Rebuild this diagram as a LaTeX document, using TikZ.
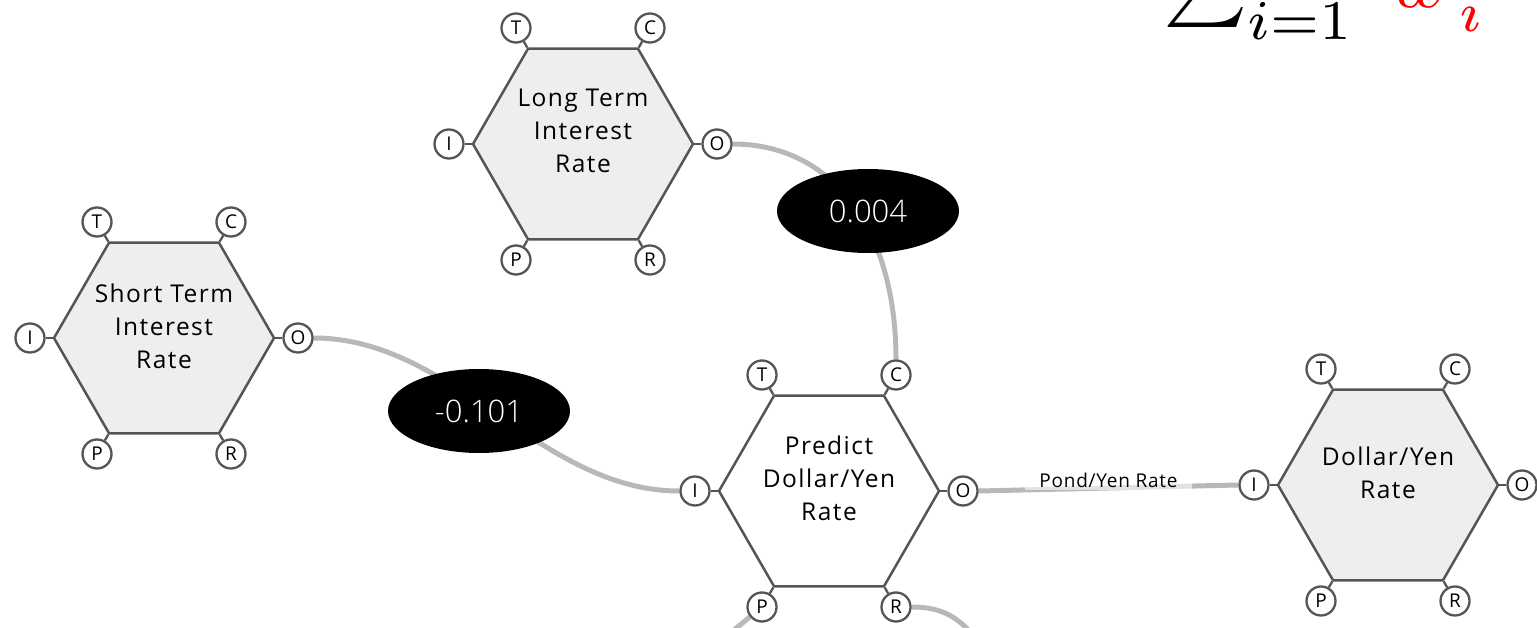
\documentclass[tikz,border=0pt]{standalone}
\usepackage{fontspec}
\usepackage{graphicx}
\setmainfont{Open Sans}
\IfFontExistsTF{Open Sans Light}{\newfontfamily\wfont{Open Sans Light}}{\newfontfamily\wfont{Open Sans}}
\usetikzlibrary{shapes.geometric,calc,backgrounds}
\definecolor{edgec}{HTML}{555555}
\definecolor{hexfill}{HTML}{EEEEEE}
\definecolor{wirec}{HTML}{B8B8B8}
\begin{document}
\begin{tikzpicture}[x=1pt,y=-1pt,
  hexbox/.style={regular polygon, regular polygon sides=6, minimum size=220pt, inner sep=0pt,
    draw=edgec, line width=2.5pt, fill=hexfill},
  hextext/.style={align=center, font=\fontsize{24.5}{33}\selectfont\addfontfeature{LetterSpace=6}, inner sep=0pt},
  port/.style={circle, minimum size=29pt, inner sep=0pt, draw=edgec, line width=2.3pt, fill=white,
    font=\fontsize{19}{19}\selectfont},
  tick/.style={draw=edgec, line width=2.3pt},
  wire/.style={draw=wirec, line width=5pt},
  weight/.style={ellipse, fill=black, text=white, minimum width=182pt, minimum height=84pt,
    inner sep=0pt, font=\wfont\fontsize{31}{31}\selectfont},
  wirelabel/.style={fill=white, fill opacity=0.6, text opacity=1, inner xsep=14pt, inner ysep=3pt,
    font=\fontsize{19}{19}\selectfont\addfontfeature{LetterSpace=4}}]
\useasboundingbox (0,0) rectangle (1537,628);
\clip (0,0) rectangle (1537,628);

% formula
\node[anchor=base west, inner sep=0pt] (formula) at (1163,8)
  {\scalebox{8}{$\sum_{\raisebox{-0.9pt}{$\scriptstyle i=1$}}\;\textcolor{red}{w_{\,\raisebox{-1.4pt}{$\scriptstyle i$}}}$}};

% hexagons
\node[hexbox] (L) at (583,144) {};
\node[hexbox] (S) at (164,338) {};
\node[hexbox, fill=white] (P) at (829,491) {};
\node[hexbox] (D) at (1388,485) {};

\node[hextext] (Ltext) at (583,131) {Long Term\\Interest\\Rate};
\node[hextext] (Stext) at (164,326) {Short Term\\Interest\\Rate};
\node[hextext] (Ptext) at (829,478) {Predict\\Dollar/Yen\\Rate};
\node[hextext] (Dtext) at (1388,473) {Dollar/Yen\\Rate};

% ports
\foreach \h in {L,S,P,D}{
  \foreach \n/\dx/\dy in {T/-67/-116, C/67/-116, I/-134/0, O/134/0, P/-67/116, R/67/116}{
    \node[port] (\h\n) at ($(\h)+(\dx,\dy)$) {\n};
    \begin{scope}[on background layer]
      \draw[tick] (\h) -- (\h\n);
    \end{scope}
  }
}

% weights
\node[weight] (w1) at (868,211) {0.004};
\node[weight] (w2) at (479,411) {-0.101};

% free ends
\coordinate (pEnd) at (712,648);
\coordinate (rEnd) at (995,665);

\begin{scope}[on background layer]
  \draw[wire] (LO.east) .. controls +(100,0) and +(0,-130) .. (PC.north);
  \draw[wire] (SO.east) .. controls +(140,0) and +(-140,0) .. (PI.west);
  \draw[wire] (PO.east) -- node[wirelabel, yshift=8pt] (plabel) {Pond/Yen Rate} (DI.west);
  \draw[wire] (PP) -- (pEnd);
  \draw[wire] (PR.east) .. controls +(45,0) and +(-25,-35) .. (rEnd);
\end{scope}
\end{tikzpicture}
\end{document}
